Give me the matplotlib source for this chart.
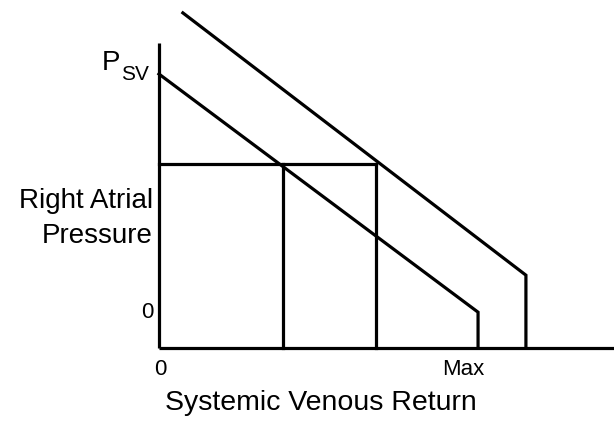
import matplotlib.pyplot as plt

plt.rcParams['font.family'] = ['Liberation Sans', 'DejaVu Sans']

# venous return curves (x: venous return, 1 = Max ; y: right atrial pressure, 1 = Psv)
curve1_x = [0.0, 1.0, 1.0]
curve1_y = [1.0, 0.131, 0.0]
curve2_x = [0.075, 1.150, 1.150]
curve2_y = [1.223, 0.266, 0.0]

# operating level and the two resulting venous returns
level_y = 0.672
return_x = [0.389, 0.680]

x_axis_end = 1.426
y_axis_end = 1.113

fig = plt.figure(figsize=(6.14, 4.21), dpi=100)
ax = fig.add_axes([0, 0, 1, 1])
ax.set_xlim(-0.498, 1.426)
ax.set_ylim(-0.266, 1.270)
ax.axis('off')

lw = 2.3
# axes
ax.plot([0, 0], [0, y_axis_end], color='black', lw=lw, solid_capstyle='butt')
ax.plot([0, x_axis_end], [0, 0], color='black', lw=lw, solid_capstyle='butt')

ax.plot(curve1_x, curve1_y, color='black', lw=lw, solid_joinstyle='miter')
ax.plot(curve2_x, curve2_y, color='black', lw=lw, solid_joinstyle='miter')

ax.plot([0, return_x[-1]], [level_y, level_y], color='black', lw=lw)
for rx in return_x:
    ax.plot([rx, rx], [0, level_y], color='black', lw=lw)

# labels, placed in figure pixels
def fx(px):
    return px / 614


def fy(py):
    return 1 - py / 421


fig.text(fx(120), fy(70), 'P', fontsize=20, ha='right', va='baseline')
fig.text(fx(121), fy(80), 'SV', fontsize=15, ha='left', va='baseline')
fig.text(fx(153), fy(208), 'Right Atrial', fontsize=20, ha='right', va='baseline')
fig.text(fx(153), fy(243), 'Pressure', fontsize=20, ha='right', va='baseline')
fig.text(fx(153), fy(318), '0', fontsize=16, ha='right', va='baseline')
fig.text(fx(160), fy(375), '0', fontsize=16, ha='center', va='baseline')
fig.text(fx(463), fy(375), 'Max', fontsize=16, ha='center', va='baseline')
fig.text(fx(321), fy(410), 'Systemic Venous Return', fontsize=20.5, ha='center', va='baseline')

fig.savefig('out.png', dpi=100)
